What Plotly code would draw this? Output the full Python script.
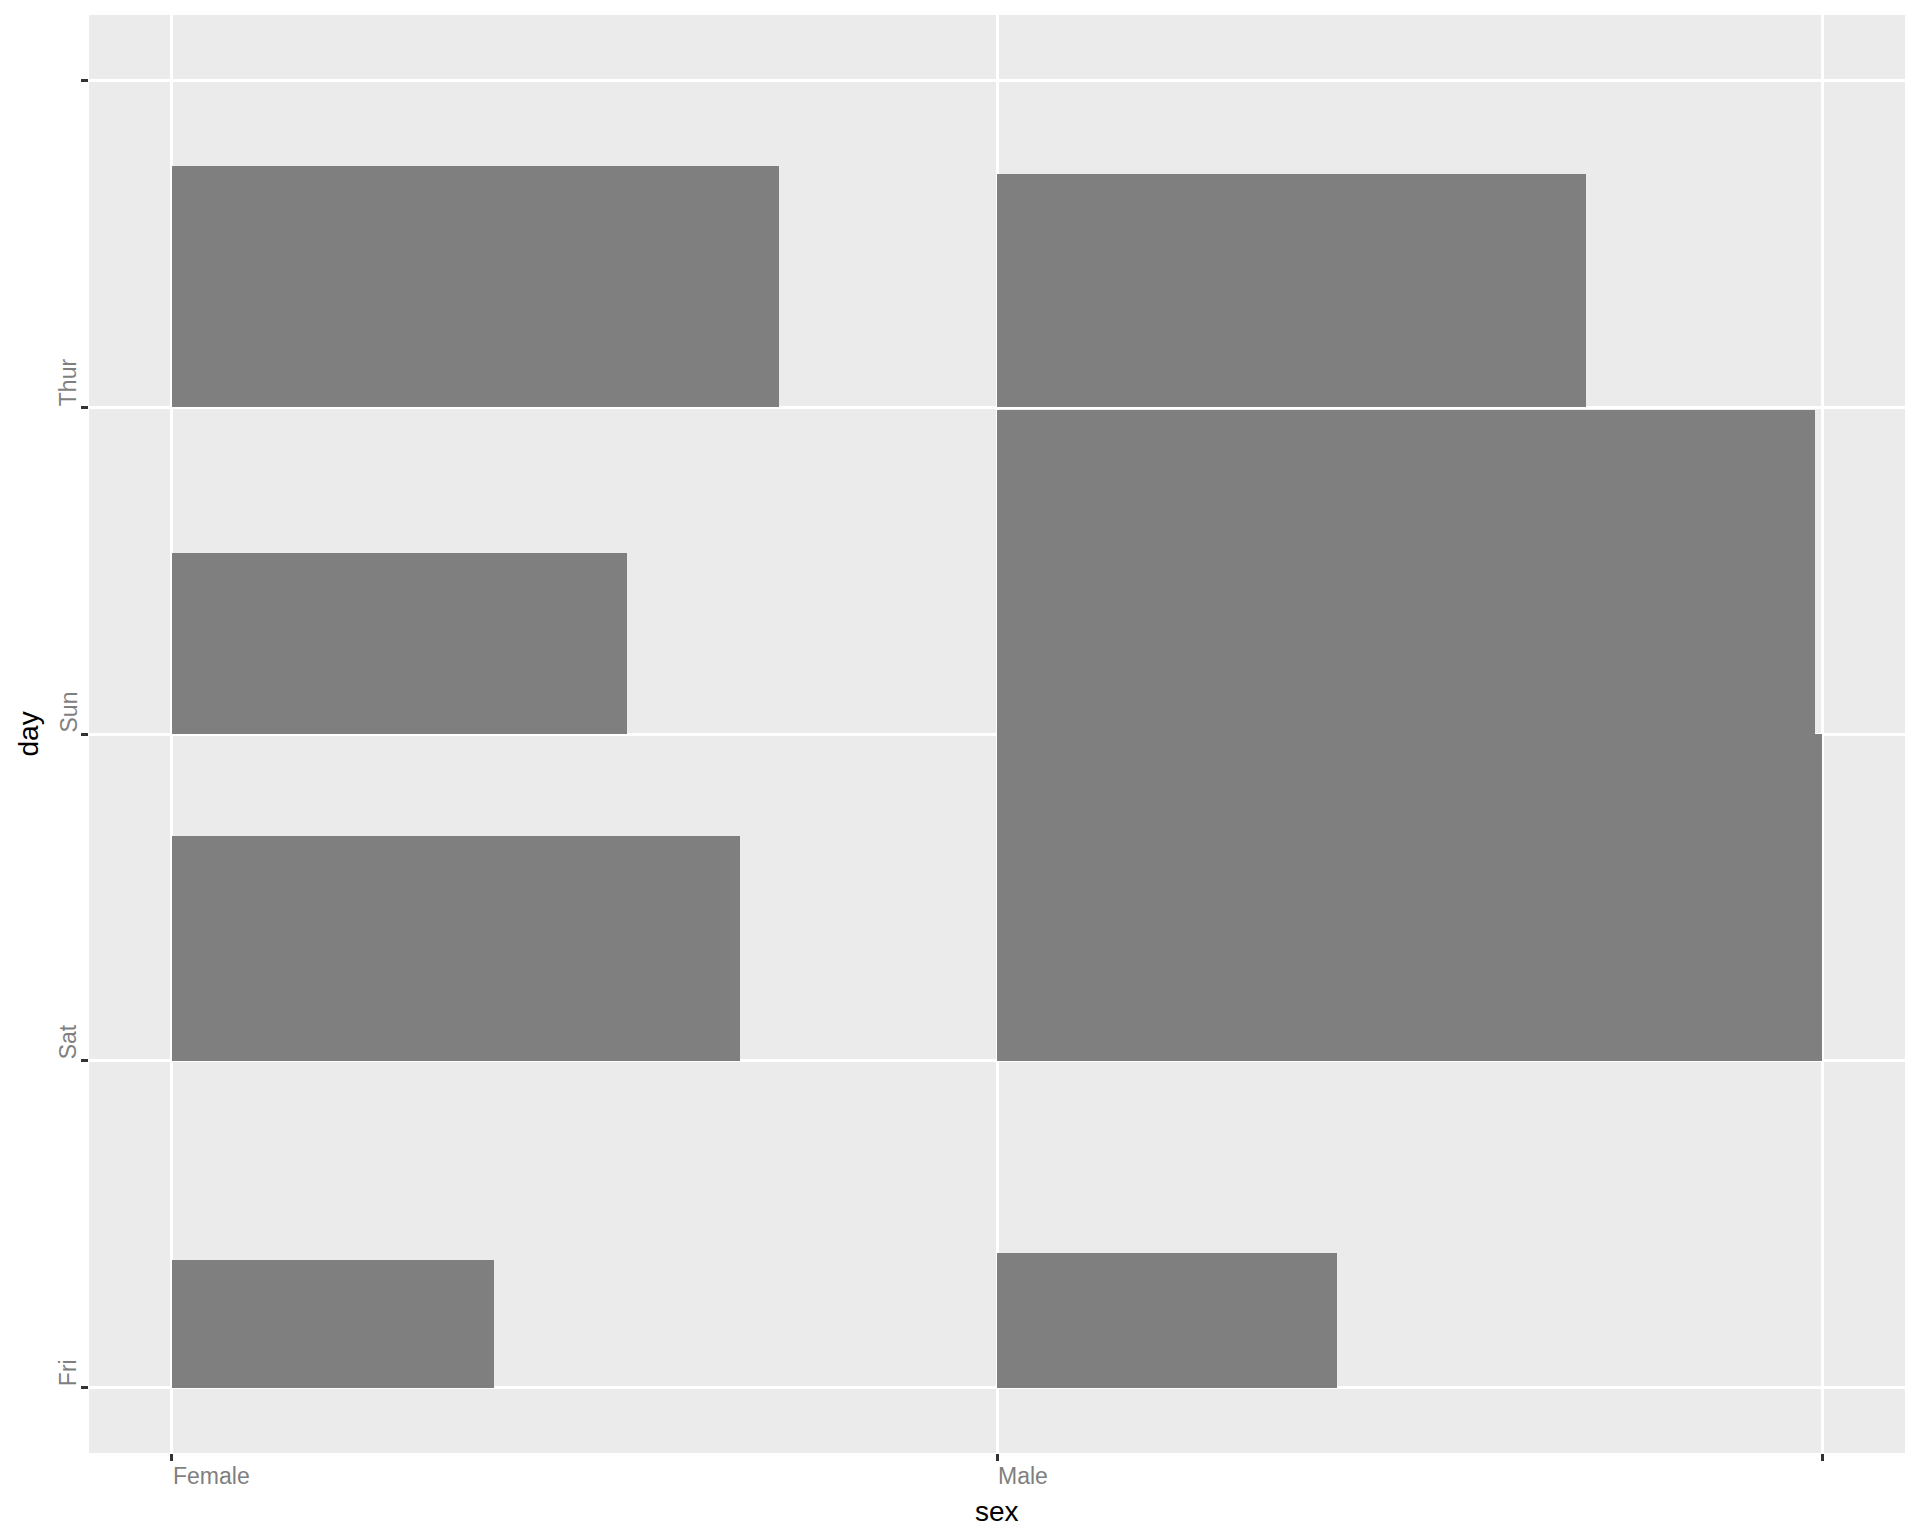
import numpy as np
import plotly.graph_objects as go

sexes = ["Female", "Male"]
days = ["Fri", "Sat", "Sun", "Thur"]
counts_female = [9, 28, 18, 32]
counts_male = [10, 59, 58, 30]
x_ticks = [0, 1, 2]
y_ticks = [0, 1, 2, 3, 4]

counts = {"Female": counts_female, "Male": counts_male}
cmax = max(max(counts_female), max(counts_male))

xs, bases, sizes = [], [], []
for i, s in enumerate(sexes):
    for j, d in enumerate(days):
        sz = float(np.sqrt(counts[s][j] / cmax))
        xs.append(i)
        bases.append(j)
        sizes.append(sz)

fig = go.Figure()
fig.add_trace(go.Bar(
    x=xs, y=sizes, base=bases, width=sizes, offset=0,
    marker=dict(color="#7f7f7f", line=dict(width=0)),
    hoverinfo="skip", showlegend=False,
))

tick_font = dict(family="Liberation Sans, Arial, sans-serif", size=23, color="#7f7f7f")
title_font = dict(family="Liberation Sans, Arial, sans-serif", size=28, color="#000000")

annotations = []
for i, s in enumerate(sexes):
    annotations.append(dict(text=s, x=i, xref="x", y=0, yref="paper",
                            xanchor="left", yanchor="top", yshift=-8, xshift=-1,
                            showarrow=False, font=tick_font))
for j, d in enumerate(days):
    annotations.append(dict(text=d, x=0, xref="paper", y=j, yref="y",
                            xanchor="right", yanchor="bottom", xshift=-6, yshift=-1,
                            textangle=-90, showarrow=False, font=tick_font))
annotations.append(dict(text="sex", x=0.5, xref="paper", y=0, yref="paper",
                        xanchor="center", yanchor="top", yshift=-41,
                        showarrow=False, font=title_font))
annotations.append(dict(text="day", x=0, xref="paper", y=0.5, yref="paper",
                        xanchor="right", yanchor="middle", xshift=-44,
                        textangle=-90, showarrow=False, font=title_font))

axis_common = dict(showgrid=True, gridcolor="#ffffff", gridwidth=2.7,
                   zeroline=False, showline=False, ticks="outside", ticklen=7,
                   tickwidth=2.7, tickcolor="#333333", showticklabels=False)

fig.update_layout(
    width=1920, height=1536,
    margin=dict(l=89, r=15, t=15, b=83),
    paper_bgcolor="#ffffff", plot_bgcolor="#ebebeb",
    barmode="overlay", bargap=0,
    xaxis=dict(range=[-0.1, 2.1], tickmode="array", tickvals=x_ticks, **axis_common),
    yaxis=dict(range=[-0.2, 4.2], tickmode="array", tickvals=y_ticks, **axis_common),
    annotations=annotations,
)

fig.write_html("out.html")
